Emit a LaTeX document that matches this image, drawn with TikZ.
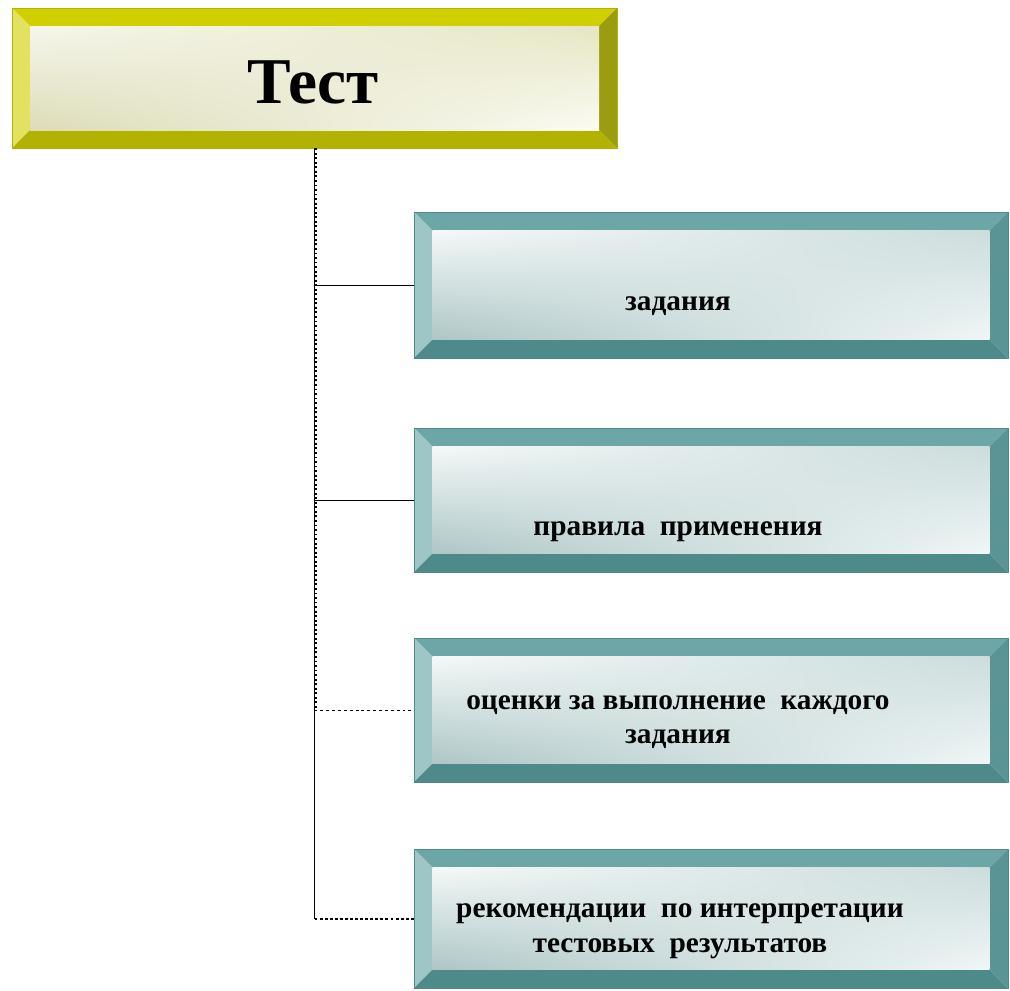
\documentclass[tikz,border=0pt]{standalone}
\usepackage{fontspec}
\setmainfont{Liberation Serif}
\usetikzlibrary{calc,fit,shadings}
% bevel colours: y = yellow title plate, t = teal plates
\definecolor{ytop}{HTML}{D0D000}
\definecolor{yleft}{HTML}{E2E260}
\definecolor{ybot}{HTML}{B2B200}
\definecolor{yright}{HTML}{9C9C10}
\definecolor{yul}{HTML}{F6F6EC}
\definecolor{yur}{HTML}{E6E6C4}
\definecolor{yll}{HTML}{DCDCB8}
\definecolor{ylr}{HTML}{FBFBF4}
\definecolor{ttop}{HTML}{6CA6A6}
\definecolor{tleft}{HTML}{9EC6C6}
\definecolor{tbot}{HTML}{4E8A8A}
\definecolor{tright}{HTML}{5A9494}
\definecolor{tul}{HTML}{F4F8F8}
\definecolor{tur}{HTML}{CCDCDC}
\definecolor{tll}{HTML}{AEC6C6}
\definecolor{tlr}{HTML}{F0F6F6}
\newcommand{\platefill}[2]{% #1 colour prefix, #2 bevel width
  \coordinate (pnw) at (path picture bounding box.north west);
  \coordinate (pne) at (path picture bounding box.north east);
  \coordinate (psw) at (path picture bounding box.south west);
  \coordinate (pse) at (path picture bounding box.south east);
  \coordinate (inw) at ([xshift=#2,yshift=-#2]pnw);
  \coordinate (ine) at ([xshift=-#2,yshift=-#2]pne);
  \coordinate (isw) at ([xshift=#2,yshift=#2]psw);
  \coordinate (ise) at ([xshift=-#2,yshift=#2]pse);
  \fill[#1top] (pnw) -- (pne) -- (ine) -- (inw) -- cycle;
  \fill[#1left] (pnw) -- (inw) -- (isw) -- (psw) -- cycle;
  \fill[#1bot] (psw) -- (isw) -- (ise) -- (pse) -- cycle;
  \fill[#1right] (pne) -- (pse) -- (ise) -- (ine) -- cycle;
  \shade[upper left=#1ul,upper right=#1ur,lower left=#1ll,lower right=#1lr] (inw) rectangle (ise);
}

\begin{document}
\begin{tikzpicture}[x={(0.75pt,0)},y={(0,-0.75pt)},
  yplate/.style={inner sep=0pt,draw=ybot,line width=0.4pt,path picture={\platefill{y}{13.5pt}}},
  tplate/.style={inner sep=0pt,draw=tbot,line width=0.4pt,path picture={\platefill{t}{14pt}}},
  lbl/.style={font=\bfseries\fontsize{22}{26}\selectfont,align=center,inner sep=0pt},
  trunk/.style={line width=0.7pt}]
  \useasboundingbox (0,0) rectangle (1010,990);
  % plates
  \node[yplate,fit={(12,8) (617,148)}] (test) {};
  \node[tplate,fit={(414,212) (1008,358)}] (zad) {};
  \node[tplate,fit={(414,428) (1008,572)}] (prav) {};
  \node[tplate,fit={(414,638) (1008,782)}] (ocen) {};
  \node[tplate,fit={(414,849) (1008,988)}] (rek) {};
  % texts
  \node[anchor=base,inner sep=0pt,font=\bfseries\fontsize{49}{56}\selectfont] (ttest) at (313,103) {Тест};
  \node[lbl,anchor=base] (tzad) at (678,310) {задания};
  \node[lbl,anchor=base] (tprav) at (678,535) {правила\ \ применения};
  \node[lbl] (tocen) at (678,722) {оценки за выполнение\ \ каждого\\задания};
  \node[lbl] (trek) at (680,931) {рекомендации\ \ по интерпретации\\тестовых\ \ результатов};
  % connectors
  \draw[trunk] (test.south) -- (test.south |- rek.west);
  \draw[line width=1.4pt,dotted] ([xshift=1pt]test.south) -- ([xshift=1pt]test.south |- ocen.west);
  \draw[trunk] (test.south |- zad.west) -- (zad.west);
  \draw[trunk] (test.south |- prav.west) -- (prav.west);
  \draw[trunk,dash pattern=on 2.2pt off 2.2pt] (test.south |- ocen.west) -- (ocen.west);
  \draw[line width=1.5pt,dash pattern=on 2.2pt off 1.6pt] (test.south |- rek.west) -- (rek.west);
\end{tikzpicture}
\end{document}
